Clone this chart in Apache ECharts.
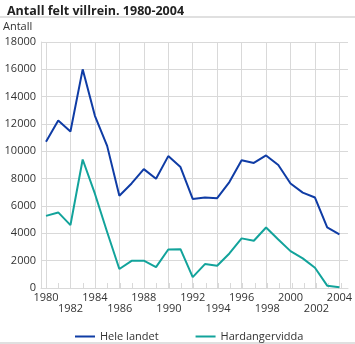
<!DOCTYPE html>
<html>
<head>
<meta charset="utf-8">
<script src="https://cdn.jsdelivr.net/npm/echarts@6/dist/echarts.min.js"></script>
<style>
  html, body { margin: 0; padding: 0; background: #fff; }
  #chart { width: 355px; height: 344px; }
</style>
</head>
<body>
<div id="chart"></div>
<script>
// Antall felt villrein, 1980-2004
const years = [1980, 1981, 1982, 1983, 1984, 1985, 1986, 1987, 1988, 1989, 1990, 1991, 1992,
               1993, 1994, 1995, 1996, 1997, 1998, 1999, 2000, 2001, 2002, 2003, 2004];
const heleLandet = [10700, 12250, 11450, 16000, 12600, 10400, 6750, 7650, 8700, 8000, 9650, 8850, 6520,
                    6620, 6570, 7750, 9350, 9150, 9700, 9000, 7650, 6980, 6620, 4430, 3920];
const hardangervidda = [5280, 5530, 4600, 9400, 6900, 4100, 1390, 1990, 2000, 1530, 2820, 2840, 800,
                        1750, 1630, 2530, 3630, 3460, 4430, 3550, 2700, 2170, 1480, 170, 50];
const seriesNames = ['Hele landet', 'Hardangervidda'];
const upperLabels = [1980, 1984, 1988, 1992, 1996, 2000, 2004];
const lowerLabels = [1982, 1986, 1990, 1994, 1998, 2002];
const yTicks = { min: 0, max: 18000, step: 2000 };

const FONT = '"Open Sans", sans-serif';
const GRID_COLOR = '#d9d9d9';
const TEXT_COLOR = '#333';

const pairs = arr => years.map((y, i) => [y, arr[i]]);
const yearRange = { min: years[0], max: years[years.length - 1] };
const plain = v => String(v);
const xLabelStyle = { color: TEXT_COLOR, fontSize: 11, fontFamily: FONT, hideOverlap: false,
                      showMinLabel: true, showMaxLabel: true, formatter: plain };

const chart = echarts.init(document.getElementById('chart'), null, { renderer: 'canvas' });
chart.setOption({
  animation: false,
  textStyle: { fontFamily: FONT },
  title: {
    text: 'Antall felt villrein. 1980-2004',
    left: 2, top: 0,
    textStyle: { fontFamily: FONT, fontSize: 12.5, fontWeight: 'bold', color: '#222' }
  },
  graphic: [
    { type: 'rect', shape: { x: 0, y: 16, width: 355, height: 2 }, style: { fill: '#e0e0e0' } },
    { type: 'rect', shape: { x: 0, y: 342, width: 355, height: 2 }, style: { fill: '#e0e0e0' } },
    { type: 'text', left: 3, top: 21, style: { text: 'Antall', font: '11px ' + FONT, fill: TEXT_COLOR } }
  ],
  legend: {
    data: seriesNames,
    left: 70, top: 326,
    icon: 'rect',
    itemWidth: 20, itemHeight: 2, itemGap: 37,
    textStyle: { fontFamily: FONT, fontSize: 11, color: TEXT_COLOR }
  },
  grid: [
    // outer frame: horizontal gridlines and axis lines
    { left: 41, right: 7, top: 42, bottom: 56 },
    // data area: 1980-2004
    { left: 46, right: 14, top: 42, bottom: 56 },
    // same area, carries the yearly ticks and the lower label row
    { left: 46, right: 14, top: 42, bottom: 56 }
  ],
  xAxis: [
    {
      gridIndex: 0, type: 'value', min: 0, max: 1,
      axisLine: { show: true, lineStyle: { color: GRID_COLOR, width: 1 } },
      axisTick: { show: false }, axisLabel: { show: false }, splitLine: { show: false }
    },
    {
      // upper label row
      gridIndex: 1, type: 'value', position: 'bottom', ...yearRange, interval: 4,
      axisLine: { show: false }, axisTick: { show: false }, splitLine: { show: false },
      axisLabel: { ...xLabelStyle, margin: 4, customValues: upperLabels }
    },
    {
      // vertical gridlines every second year
      gridIndex: 1, type: 'value', position: 'top', ...yearRange, interval: 2,
      axisLine: { show: false }, axisTick: { show: false }, axisLabel: { show: false },
      splitLine: { show: true, lineStyle: { color: GRID_COLOR, width: 1 } }
    },
    {
      // yearly ticks and lower label row
      gridIndex: 2, type: 'value', position: 'bottom', ...yearRange, interval: 1,
      axisLine: { show: true, lineStyle: { color: GRID_COLOR, width: 1 } },
      axisTick: { show: true, inside: true, length: 5, lineStyle: { color: GRID_COLOR } },
      axisLabel: { ...xLabelStyle, margin: 15, customValues: lowerLabels },
      splitLine: { show: false }
    }
  ],
  yAxis: [
    {
      gridIndex: 0, type: 'value', min: yTicks.min, max: yTicks.max, interval: yTicks.step,
      axisLine: { show: true, lineStyle: { color: GRID_COLOR, width: 1 } },
      axisTick: { show: false },
      splitLine: { show: true, lineStyle: { color: GRID_COLOR, width: 1 } },
      axisLabel: { color: TEXT_COLOR, fontSize: 11, fontFamily: FONT, margin: 5, formatter: plain }
    },
    {
      gridIndex: 1, type: 'value', min: yTicks.min, max: yTicks.max, interval: yTicks.step,
      axisLine: { show: false }, axisTick: { show: false },
      axisLabel: { show: false }, splitLine: { show: false }
    },
    {
      gridIndex: 2, type: 'value', min: yTicks.min, max: yTicks.max, interval: yTicks.step,
      axisLine: { show: false }, axisTick: { show: false },
      axisLabel: { show: false }, splitLine: { show: false }
    }
  ],
  series: [
    {
      name: seriesNames[0], type: 'line', xAxisIndex: 1, yAxisIndex: 1,
      data: pairs(heleLandet), symbol: 'none',
      lineStyle: { color: '#0f3ca5', width: 2 }, itemStyle: { color: '#0f3ca5' }
    },
    {
      name: seriesNames[1], type: 'line', xAxisIndex: 1, yAxisIndex: 1,
      data: pairs(hardangervidda), symbol: 'none',
      lineStyle: { color: '#12a39b', width: 2 }, itemStyle: { color: '#12a39b' }
    }
  ]
});
</script>
</body>
</html>
